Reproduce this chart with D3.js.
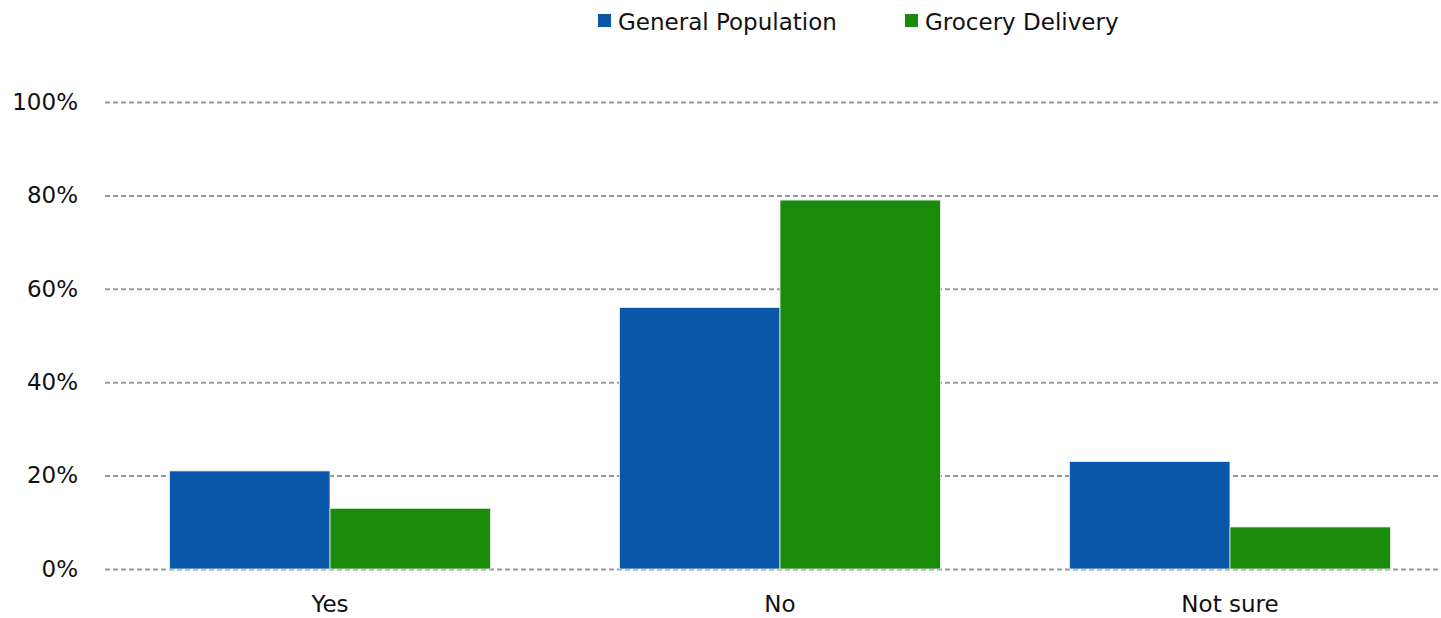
<!DOCTYPE html>
<html>
<head>
<meta charset="utf-8">
<script src="https://cdn.jsdelivr.net/npm/d3@7"></script>
<style>
  html, body { margin: 0; padding: 0; background: #fff; }
  svg text { font-family: "DejaVu Sans", Verdana, sans-serif; fill: #111; }
</style>
</head>
<body>
<svg id="chart" width="1441" height="618"></svg>
<script>
// Survey answers by group
const categories = ["Yes", "No", "Not sure"];
const seriesNames = ["General Population", "Grocery Delivery"];
const generalPopulation = [21, 56, 23];
const groceryDelivery = [13, 79, 9];
const yTicks = [0, 20, 40, 60, 80, 100];
const colors = ["#0a56a8", "#1a8a0a"];

const seriesValues = [generalPopulation, groceryDelivery];
const svg = d3.select("#chart");

const margin = { left: 105, right: -14, top: 102, bottom: 49 };
const W = 1441, H = 618;
const fontSize = 23;

const x0 = d3.scaleBand()
  .domain(categories)
  .range([margin.left, W - margin.right])
  .paddingInner(0.287)
  .paddingOuter(0.1435);

const x1 = d3.scaleBand()
  .domain(seriesNames)
  .range([0, x0.bandwidth()]);

const y = d3.scaleLinear()
  .domain([0, 100])
  .range([H - margin.bottom, margin.top]);

// Dashed horizontal gridlines with percent labels
const yAxis = d3.axisLeft(y)
  .tickValues(yTicks)
  .tickFormat(d => d + "%")
  .tickSize(-(W - margin.left))
  .tickPadding(27);

const gy = svg.append("g")
  .attr("transform", `translate(${margin.left},0)`)
  .call(yAxis);
gy.select(".domain").remove();
gy.selectAll(".tick line")
  .attr("stroke", "#999")
  .attr("stroke-width", 2)
  .attr("stroke-dasharray", "5,3");
gy.selectAll(".tick text")
  .attr("font-size", fontSize)
  .style("font-family", "'DejaVu Sans', Verdana, sans-serif")
  .attr("fill", "#111");

// Grouped bars
const groups = svg.append("g").selectAll("g")
  .data(categories)
  .join("g")
  .attr("transform", d => `translate(${x0(d)},0)`);

groups.selectAll("rect")
  .data((c, i) => seriesNames.map((s, j) => ({ s, j, v: seriesValues[j][i] })))
  .join("rect")
  .attr("x", d => x1(d.s))
  .attr("y", d => y(d.v))
  .attr("width", x1.bandwidth())
  .attr("height", d => y(0) - y(d.v))
  .attr("fill", d => colors[d.j])
  .attr("stroke", "#e8f0e8")
  .attr("stroke-width", 0.8);

// Category labels
const xAxis = d3.axisBottom(x0).tickSize(0).tickPadding(27);
const gx = svg.append("g")
  .attr("transform", `translate(0,${y(0)})`)
  .call(xAxis);
gx.select(".domain").remove();
gx.selectAll(".tick text")
  .attr("font-size", fontSize)
  .style("font-family", "'DejaVu Sans', Verdana, sans-serif")
  .attr("fill", "#111");

// Legend
const legendX = [598, 905];
const legend = svg.append("g").selectAll("g")
  .data(seriesNames)
  .join("g")
  .attr("transform", (d, i) => `translate(${legendX[i]},14)`);
legend.append("rect")
  .attr("width", 13).attr("height", 13)
  .attr("fill", (d, i) => colors[i]);
legend.append("text")
  .attr("x", 20).attr("y", 16)
  .attr("font-size", fontSize)
  .text(d => d);
</script>
</body>
</html>
